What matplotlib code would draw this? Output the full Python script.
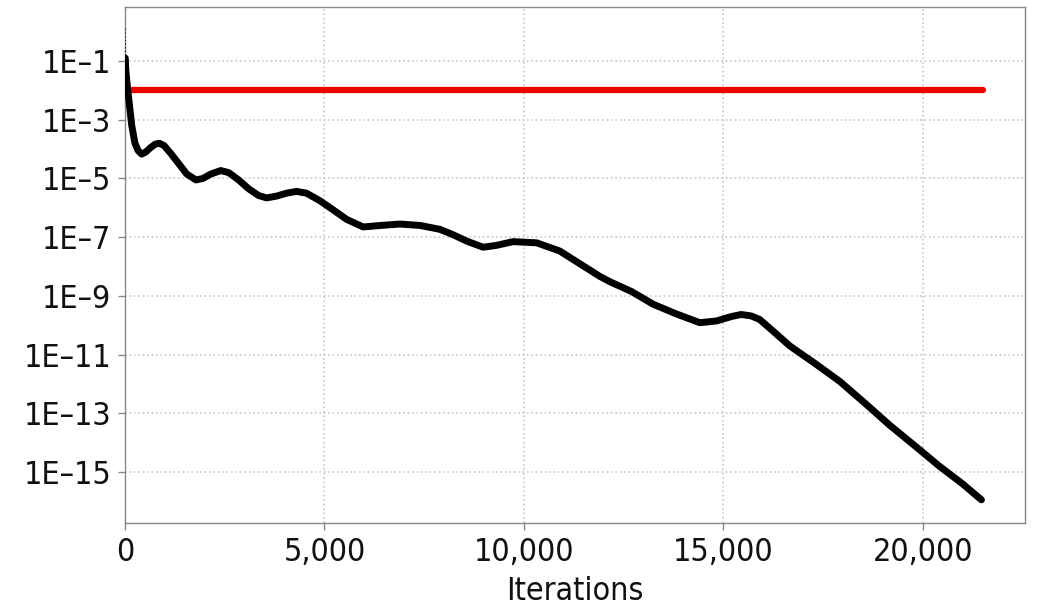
import numpy as np
import matplotlib.pyplot as plt
from matplotlib.ticker import FixedLocator, FuncFormatter

plt.rcParams['font.family'] = ['DejaVu Sans']
plt.rcParams['font.stretch'] = 'condensed'

# residual history (log10 of residual) vs iteration
iters = [8, 20, 40, 80, 120, 170, 250, 330, 420, 520, 640, 760, 860, 980, 1150,
         1350, 1550, 1780, 1950, 2150, 2400, 2600, 2850, 3100, 3350, 3550,
         3800, 4050, 4300, 4550, 4890, 5200, 5555, 5970, 6400, 6890, 7400,
         7890, 8200, 8600, 8980, 9300, 9730, 10320, 10900, 11400, 11900,
         12150, 12700, 13240, 13800, 14410, 14830, 15200, 15450, 15700,
         15910, 16250, 16665, 17300, 17920, 18550, 19170, 19800, 20420,
         21000, 21470]
log_res = [-0.9, -1.3, -1.6, -2.1, -2.6, -3.2, -3.8, -4.05, -4.17, -4.1, -3.95,
           -3.83, -3.8, -3.88, -4.15, -4.5, -4.85, -5.05, -5.0, -4.85, -4.73,
           -4.8, -5.05, -5.35, -5.58, -5.66, -5.6, -5.5, -5.44, -5.5, -5.76,
           -6.05, -6.39, -6.65, -6.6, -6.55, -6.6, -6.73, -6.9, -7.15, -7.34,
           -7.28, -7.15, -7.19, -7.47, -7.9, -8.33, -8.51, -8.85, -9.28, -9.6,
           -9.91, -9.85, -9.7, -9.63, -9.68, -9.8, -10.2, -10.7, -11.3, -11.91,
           -12.65, -13.4, -14.1, -14.8, -15.4, -15.94]

# first few iterations (thin spike at the start)
spike_iters = [0, 8]
spike_log = [0.1, -0.9]

# monitor target
target_iters = [0, 21500]
target_log = [-2.0, -2.0]

fig = plt.figure(figsize=(10.38, 6.11), dpi=100)
ax = fig.add_axes([0.1204, 0.144, 0.867, 0.8446])

ax.plot(target_iters, 10.0 ** np.array(target_log), color='#ee0000', lw=4.5,
        solid_capstyle='round', zorder=3)
ax.plot(spike_iters, 10.0 ** np.array(spike_log), color='black', lw=1,
        ls=':', zorder=4)
ax.plot(iters, 10.0 ** np.array(log_res), color='black', lw=5,
        solid_capstyle='round', solid_joinstyle='round', zorder=4)

ax.set_yscale('log')
ax.set_xlim(0, 22560)
ax.set_ylim(10 ** -16.73, 10 ** 0.84)

yt = [10.0 ** e for e in range(-1, -16, -2)]
ax.yaxis.set_major_locator(FixedLocator(yt))
ax.yaxis.set_minor_locator(FixedLocator([]))
ax.yaxis.set_major_formatter(FuncFormatter(
    lambda v, p: '1E\u2013%d' % round(-np.log10(v))))
ax.set_xticks([0, 5000, 10000, 15000, 20000])
ax.xaxis.set_major_formatter(FuncFormatter(lambda v, p: f'{int(v):,}'))

ax.grid(True, color='#c8c8c8', ls=':', lw=1.2)
for s in ax.spines.values():
    s.set_color('#888888')
    s.set_linewidth(1)
ax.tick_params(colors='#888888', labelcolor='#111111', labelsize=23,
               length=5, width=1)
ax.tick_params(axis='y', pad=5)
ax.tick_params(axis='x', pad=5)
ax.set_xlabel('Iterations', fontsize=23, labelpad=6, color='#111111')

fig.savefig('out.png', dpi=100, facecolor='white')
